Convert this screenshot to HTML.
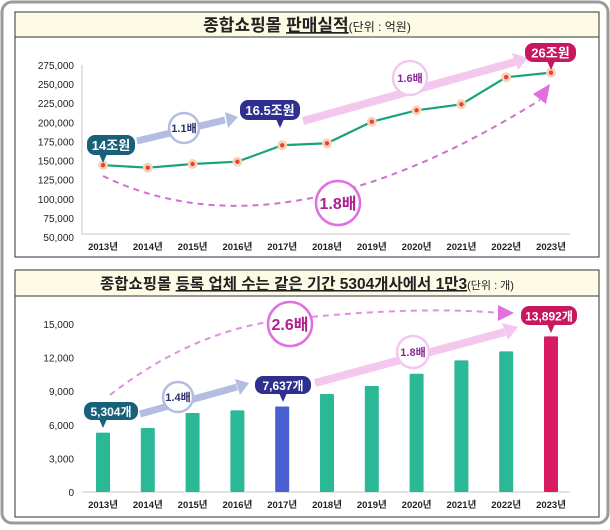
<!DOCTYPE html>
<html><head><meta charset="utf-8"><style>
body{margin:0;background:#fff;}
svg text{font-family:"Liberation Sans","Noto Sans CJK KR",sans-serif;}
</style></head><body>
<svg id="c" width="610" height="525" viewBox="0 0 610 525">
<rect x="2" y="2" width="606" height="521" rx="10" fill="#fff" stroke="#9a9a9a" stroke-width="3"/>
<rect x="15" y="12" width="584" height="245" fill="#fff" stroke="#333" stroke-width="1"/>
<rect x="15" y="12" width="584" height="25" fill="#fdfbe6" stroke="#333" stroke-width="1"/>
<text x="307" y="31" text-anchor="middle" font-size="17" font-weight="bold" fill="#222">종합쇼핑몰 <tspan text-decoration="underline">판매실적</tspan><tspan font-size="12" font-weight="normal">(단위 : 억원)</tspan></text>
<g id="top"></g>
<rect x="15" y="270" width="584" height="247" fill="#fff" stroke="#333" stroke-width="1"/>
<rect x="15" y="270" width="584" height="26" fill="#fdfbe6" stroke="#333" stroke-width="1"/>
<text x="307" y="289" text-anchor="middle" font-size="15.5" font-weight="bold" fill="#222">종합쇼핑몰 <tspan text-decoration="underline">등록 업체 수는 같은 기간 5304개사에서 1만3</tspan><tspan font-size="11" font-weight="normal">(단위 : 개)</tspan></text>
<g id="bot"></g>
</svg>
<script>
const years=['2013년','2014년','2015년','2016년','2017년','2018년','2019년','2020년','2021년','2022년','2023년'];
const salesValues=[144000,140700,145500,148500,170000,172600,200800,215700,223600,259000,265000];
const salesTicks=[50000,75000,100000,125000,150000,175000,200000,225000,250000,275000];
const storeValues=[5304,5714,7054,7286,7637,8750,9464,10562,11750,12554,13892];
const storeTicks=[0,3000,6000,9000,12000,15000];
const NS='http://www.w3.org/2000/svg';
function el(p,t,a){const e=document.createElementNS(NS,t);for(const k in a)e.setAttribute(k,a[k]);p.appendChild(e);return e;}
const xs=i=>103+i*(551-103)/(years.length-1);
const fmt=v=>v.toLocaleString('en-US');
const T=document.getElementById('top');
const yT=v=>237-(v-50000)/(275000-50000)*(237-65);
el(T,'path',{d:'M82 65 V234 H570',fill:'none',stroke:'#e3e3e3','stroke-width':2});
salesTicks.forEach(v=>{const t=el(T,'text',{x:74,y:yT(v)+4,'text-anchor':'end','font-size':10,fill:'#222'});t.textContent=fmt(v);

});
years.forEach((y,i)=>{const t=el(T,'text',{x:xs(i),y:250,'text-anchor':'middle','font-size':9.5,'font-weight':'bold',fill:'#222'});t.textContent=y;

});
el(T,'path',{d:'M103 176 Q280 262 540 100',fill:'none',stroke:'#d070d0','stroke-width':2,'stroke-dasharray':'6 5'});
el(T,'polygon',{points:'533,94 550,84 546,104',fill:'#e070e0'});
el(T,'line',{x1:137,y1:141,x2:225,y2:120,stroke:'#b4bde0','stroke-width':7});
el(T,'polygon',{points:'225,112 238,117 228,128',fill:'#b4bde0'});
el(T,'line',{x1:303,y1:121,x2:515,y2:62,stroke:'#f4c8ee','stroke-width':8});
el(T,'polygon',{points:'512,53 528,58 518,70',fill:'#f4c8ee'});
let pts=salesValues.map((v,i)=>xs(i)+','+yT(v)).join(' ');
const ln=el(T,'polyline',{points:pts,fill:'none',stroke:'#17a27a','stroke-width':2.2});


salesValues.forEach((v,i)=>{const g=el(T,'g',{});


el(g,'circle',{cx:xs(i),cy:yT(v),r:5,fill:'#fbd2b8'});el(g,'circle',{cx:xs(i),cy:yT(v),r:2.2,fill:'#e0443a'});});
function bubble(p,x,y,w,h,txt,fill,tail,name,fs){const g=el(p,'g',{});


el(g,'rect',{x:x,y:y,width:w,height:h,rx:8,fill:fill});
el(g,'polygon',{points:(tail-4)+','+(y+h-1)+' '+(tail+4)+','+(y+h-1)+' '+tail+','+(y+h+8),fill:fill});
const t=el(g,'text',{x:x+w/2,y:y+h/2+5,'text-anchor':'middle','font-size':fs||13,'font-weight':'bold',fill:'#fff'});t.textContent=txt;}
function circ(p,cx,cy,r,txt,col,fs,name,tc){const g=el(p,'g',{});


el(g,'circle',{cx:cx,cy:cy,r:r,fill:'#fff',stroke:col,'stroke-width':2.5});
const t=el(g,'text',{x:cx,y:cy+fs*0.36,'text-anchor':'middle','font-size':fs,'font-weight':'bold',fill:tc||'#5a2a80'});t.textContent=txt;return t;}
bubble(T,87,135,48,20,'14조원','#19607a',103,'label-14-trillion');
bubble(T,240,100,60,20,'16.5조원','#2e2f8f',280,'label-16-5-trillion');
bubble(T,525,43,51,19,'26조원','#c8175f',551,'label-26-trillion');
circ(T,184,128,15,'1.1배','#b4bde0',11,'ratio-1-1','#2e2f6f');
circ(T,410,78,17,'1.6배','#f4c8ee',11,'ratio-1-6','#8a2a9a');
circ(T,338,203,22,'1.8배','#e070e0',16,'ratio-1-8','#b0208e');
const B=document.getElementById('bot');
const yB=v=>492-v/15000*(492-324);
el(B,'line',{x1:82,y1:492,x2:570,y2:492,stroke:'#e3e3e3','stroke-width':2});
storeTicks.forEach(v=>{const t=el(B,'text',{x:74,y:yB(v)+4,'text-anchor':'end','font-size':10,fill:'#222'});t.textContent=fmt(v);

});
years.forEach((y,i)=>{const t=el(B,'text',{x:xs(i),y:508,'text-anchor':'middle','font-size':9.5,'font-weight':'bold',fill:'#222'});t.textContent=y;

});
storeValues.forEach((v,i)=>{const c=i===4?'#4a5fd0':i===10?'#d81b63':'#2bb896';
const r=el(B,'rect',{x:xs(i)-7,y:yB(v),width:14,height:492-yB(v),fill:c,rx:1});

});
el(B,'path',{d:'M110 395 Q200 325 300 318 Q420 306 500 313',fill:'none',stroke:'#e090e0','stroke-width':2,'stroke-dasharray':'6 5'});
el(B,'polygon',{points:'498,305 514,313 498,321',fill:'#e070e0'});
el(B,'line',{x1:140,y1:414,x2:237,y2:387,stroke:'#b4bde0','stroke-width':7});
el(B,'polygon',{points:'235,379 249,383 240,395',fill:'#b4bde0'});
el(B,'line',{x1:315,y1:383,x2:505,y2:332,stroke:'#f4c8ee','stroke-width':8});
el(B,'polygon',{points:'502,323 518,327 508,340',fill:'#f4c8ee'});
bubble(B,84,402,54,18,'5,304개','#19607a',103,'label-5304',12);
bubble(B,255,376,56,18,'7,637개','#2e2f8f',283,'label-7637',12);
bubble(B,521,306,56,19,'13,892개','#c8175f',551,'label-13892',12);
circ(B,178,397,15,'1.4배','#b4bde0',11,'ratio-1-4','#2e2f6f');
circ(B,413,352,16,'1.8배','#f4c8ee',11,'ratio-1-8-stores','#8a2a9a');
circ(B,290,324,22,'2.6배','#e070e0',16,'ratio-2-6','#b0208e');
</script>
</body></html>
